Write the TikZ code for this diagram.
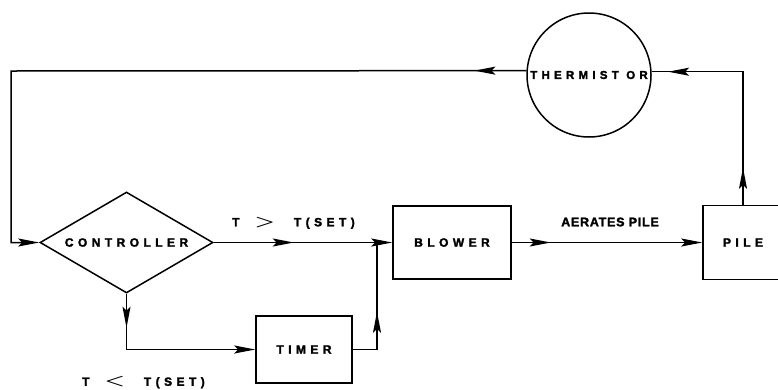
\documentclass[tikz,border=0pt]{standalone}
\usepackage{fontspec}
\usetikzlibrary{arrows.meta,shapes.geometric,decorations.markings}
\newfontfamily\lblfont[LetterSpace=37,FakeBold=2]{Liberation Sans Bold}
\newfontfamily\lblnarrow[LetterSpace=6,FakeBold=2]{Liberation Sans Bold}
\newcommand{\gtsym}{\scalebox{1.9}[1.3]{$\boldsymbol{>}$}}
\newcommand{\ltsym}{\scalebox{1.9}[1.3]{$\boldsymbol{<}$}}
\usepackage{amsmath}
\begin{document}
\begin{tikzpicture}[x=1pt,y=-1pt,
  myarr/.tip={Stealth[length=21pt,width=8pt,inset=4pt]},
  conn/.style={line width=1.5pt},
  midarrow/.style={postaction={decorate,decoration={markings,mark=at position #1 with {\arrow{myarr}}}}},
  lbl/.style={font=\lblfont\fontsize{12pt}{12pt}\selectfont, inner sep=0pt},
  boxnode/.style={draw, line width=1.5pt, inner sep=0pt, font=\lblfont\fontsize{12pt}{12pt}\selectfont}]
\useasboundingbox (0,0) rectangle (778,389);
% nodes
\node[boxnode, diamond, aspect=1.713, minimum width=173pt, minimum height=101pt] (ctl) at (126.5,242.5) {CONTROLLER};
\node[boxnode, rectangle, minimum width=118pt, minimum height=73pt] (blower) at (452,242.5) {BLOWER};
\node[boxnode, rectangle, minimum width=96pt, minimum height=67pt] (timer) at (304,349.5) {TIMER};
\node[boxnode, rectangle, minimum width=80pt, minimum height=74pt] (pile) at (743,242.5) {PILE};
\node[boxnode, circle, minimum size=124pt, font=\lblfont\fontsize{11.5pt}{11.5pt}\selectfont] (therm) at (589,75) {\raisebox{-2pt}{THERMIST OR}};
% labels
\node[lbl, anchor=west] (gtlbl) at (232,223) {T\hspace{15pt}\gtsym\hspace{19pt}T(SET)};
\node[lbl, anchor=west] (ltlbl) at (82,382.5) {T\hspace{15pt}\ltsym\hspace{19pt}T(SET)};
\node[inner sep=0pt, font=\lblnarrow\fontsize{12.5pt}{12.5pt}\selectfont] (aer) at (610,222) {AERATES PILE};
% helper coordinates
\coordinate (jn) at (377,242.5);
\coordinate (tl) at (11,71);
% connectors
\draw[conn, midarrow=80pt, -myarr] (ctl.east) -- (blower.west);
\draw[conn, midarrow=62pt] (timer.east) -| (jn);
\draw[conn, midarrow=34pt, -myarr] (ctl.south) |- (timer.west);
\draw[conn, midarrow=39pt, -myarr] (blower.east) -- (pile.west);
\draw[conn, midarrow=37pt, midarrow=208pt] (pile.north) |- (therm.3.7);
\draw[conn, midarrow=52pt, -myarr] (therm.176.3) -- (tl) |- (ctl.west);
\end{tikzpicture}
\end{document}
